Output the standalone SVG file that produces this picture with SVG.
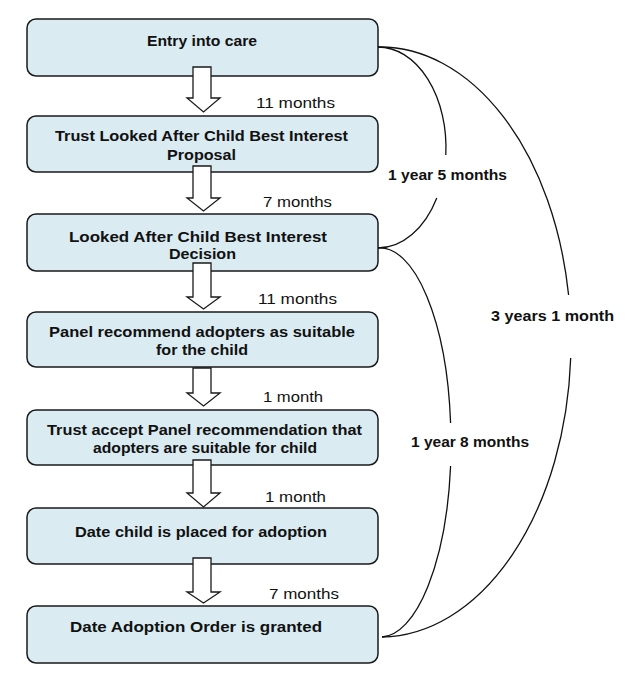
<svg xmlns="http://www.w3.org/2000/svg" width="632" height="688" viewBox="0 0 632 688">
<style>
.box{fill:#daebf2;stroke:#1a1a1a;stroke-width:1.5}
.arr{fill:#ffffff;stroke:#1a1a1a;stroke-width:1.3;stroke-linejoin:miter}
.bt{font-family:"Liberation Sans",Arial,sans-serif;font-weight:bold;font-size:15px;fill:#111}
.mt{font-family:"Liberation Sans",Arial,sans-serif;font-size:15px;fill:#111}
.con{fill:none;stroke:#111;stroke-width:1.3}
</style>
<rect width="632" height="688" fill="#ffffff"/>
<g id="n1"><rect class="box" x="27" y="19" width="351" height="57" rx="9"/><text class="bt" x="147" y="46" textLength="110" lengthAdjust="spacingAndGlyphs">Entry into care</text></g>
<g id="n2"><rect class="box" x="27" y="116" width="351" height="56" rx="9"/><text class="bt" x="55" y="141" textLength="293" lengthAdjust="spacingAndGlyphs">Trust Looked After Child Best Interest</text><text class="bt" x="167" y="160" textLength="69" lengthAdjust="spacingAndGlyphs">Proposal</text></g>
<g id="n3"><rect class="box" x="27" y="214" width="351" height="57" rx="9"/><text class="bt" x="69" y="242" textLength="258" lengthAdjust="spacingAndGlyphs">Looked After Child Best Interest</text><text class="bt" x="169" y="259" textLength="67" lengthAdjust="spacingAndGlyphs">Decision</text></g>
<g id="n4"><rect class="box" x="27" y="312" width="351" height="55" rx="9"/><text class="bt" x="49" y="337" textLength="306" lengthAdjust="spacingAndGlyphs">Panel recommend adopters as suitable</text><text class="bt" x="156" y="355" textLength="92" lengthAdjust="spacingAndGlyphs">for the child</text></g>
<g id="n5"><rect class="box" x="27" y="410" width="351" height="55" rx="9"/><text class="bt" x="47" y="435" textLength="315" lengthAdjust="spacingAndGlyphs">Trust accept Panel recommendation that</text><text class="bt" x="93" y="453" textLength="224" lengthAdjust="spacingAndGlyphs">adopters are suitable for child</text></g>
<g id="n6"><rect class="box" x="27" y="508" width="351" height="56" rx="9"/><text class="bt" x="75" y="537" textLength="252" lengthAdjust="spacingAndGlyphs">Date child is placed for adoption</text></g>
<g id="n7"><rect class="box" x="27" y="606" width="351" height="57" rx="9"/><text class="bt" x="70" y="632" textLength="252" lengthAdjust="spacingAndGlyphs">Date Adoption Order is granted</text></g>
<g id="connectors">
<polygon class="arr" points="193,67 211,67 211,98 220,98 203.5,112 187,98 193,98"/>
<polygon class="arr" points="193,166 211,166 211,198 220,198 203.5,211 187,198 193,198"/>
<polygon class="arr" points="193,263 211,263 211,297 220,297 203.5,309 187,297 193,297"/>
<polygon class="arr" points="193,368 211,368 211,393 220,393 203.5,406 187,393 193,393"/>
<polygon class="arr" points="193,460 211,460 211,493 220,493 203.5,507 187,493 193,493"/>
<polygon class="arr" points="193,558 211,558 211,592 220,592 203.5,603 187,592 193,592"/>
<path class="con" d="M378,47 A68,100.5 0 0 1 445.8,155 M436.8,198 A68,100.5 0 0 1 378,248"/>
<path class="con" d="M378,47 A191,295 0 0 1 568.6,295 M570.7,358 A191,295 0 0 1 382,637"/>
<path class="con" d="M378,248 A71,194.5 0 0 1 450.6,423 M450.6,466 A71,194.5 0 0 1 382,637"/>
<text class="mt" x="256" y="108" textLength="79" lengthAdjust="spacingAndGlyphs">11 months</text>
<text class="mt" x="263" y="207" textLength="69" lengthAdjust="spacingAndGlyphs">7 months</text>
<text class="mt" x="258" y="304" textLength="79" lengthAdjust="spacingAndGlyphs">11 months</text>
<text class="mt" x="263" y="402" textLength="60" lengthAdjust="spacingAndGlyphs">1 month</text>
<text class="mt" x="265" y="502" textLength="61" lengthAdjust="spacingAndGlyphs">1 month</text>
<text class="mt" x="269" y="599" textLength="70" lengthAdjust="spacingAndGlyphs">7 months</text>
<text class="bt" x="388" y="180" textLength="119" lengthAdjust="spacingAndGlyphs">1 year 5 months</text>
<text class="bt" x="491" y="321" textLength="123" lengthAdjust="spacingAndGlyphs">3 years 1 month</text>
<text class="bt" x="411" y="447" textLength="118" lengthAdjust="spacingAndGlyphs">1 year 8 months</text>
</g>
</svg>
